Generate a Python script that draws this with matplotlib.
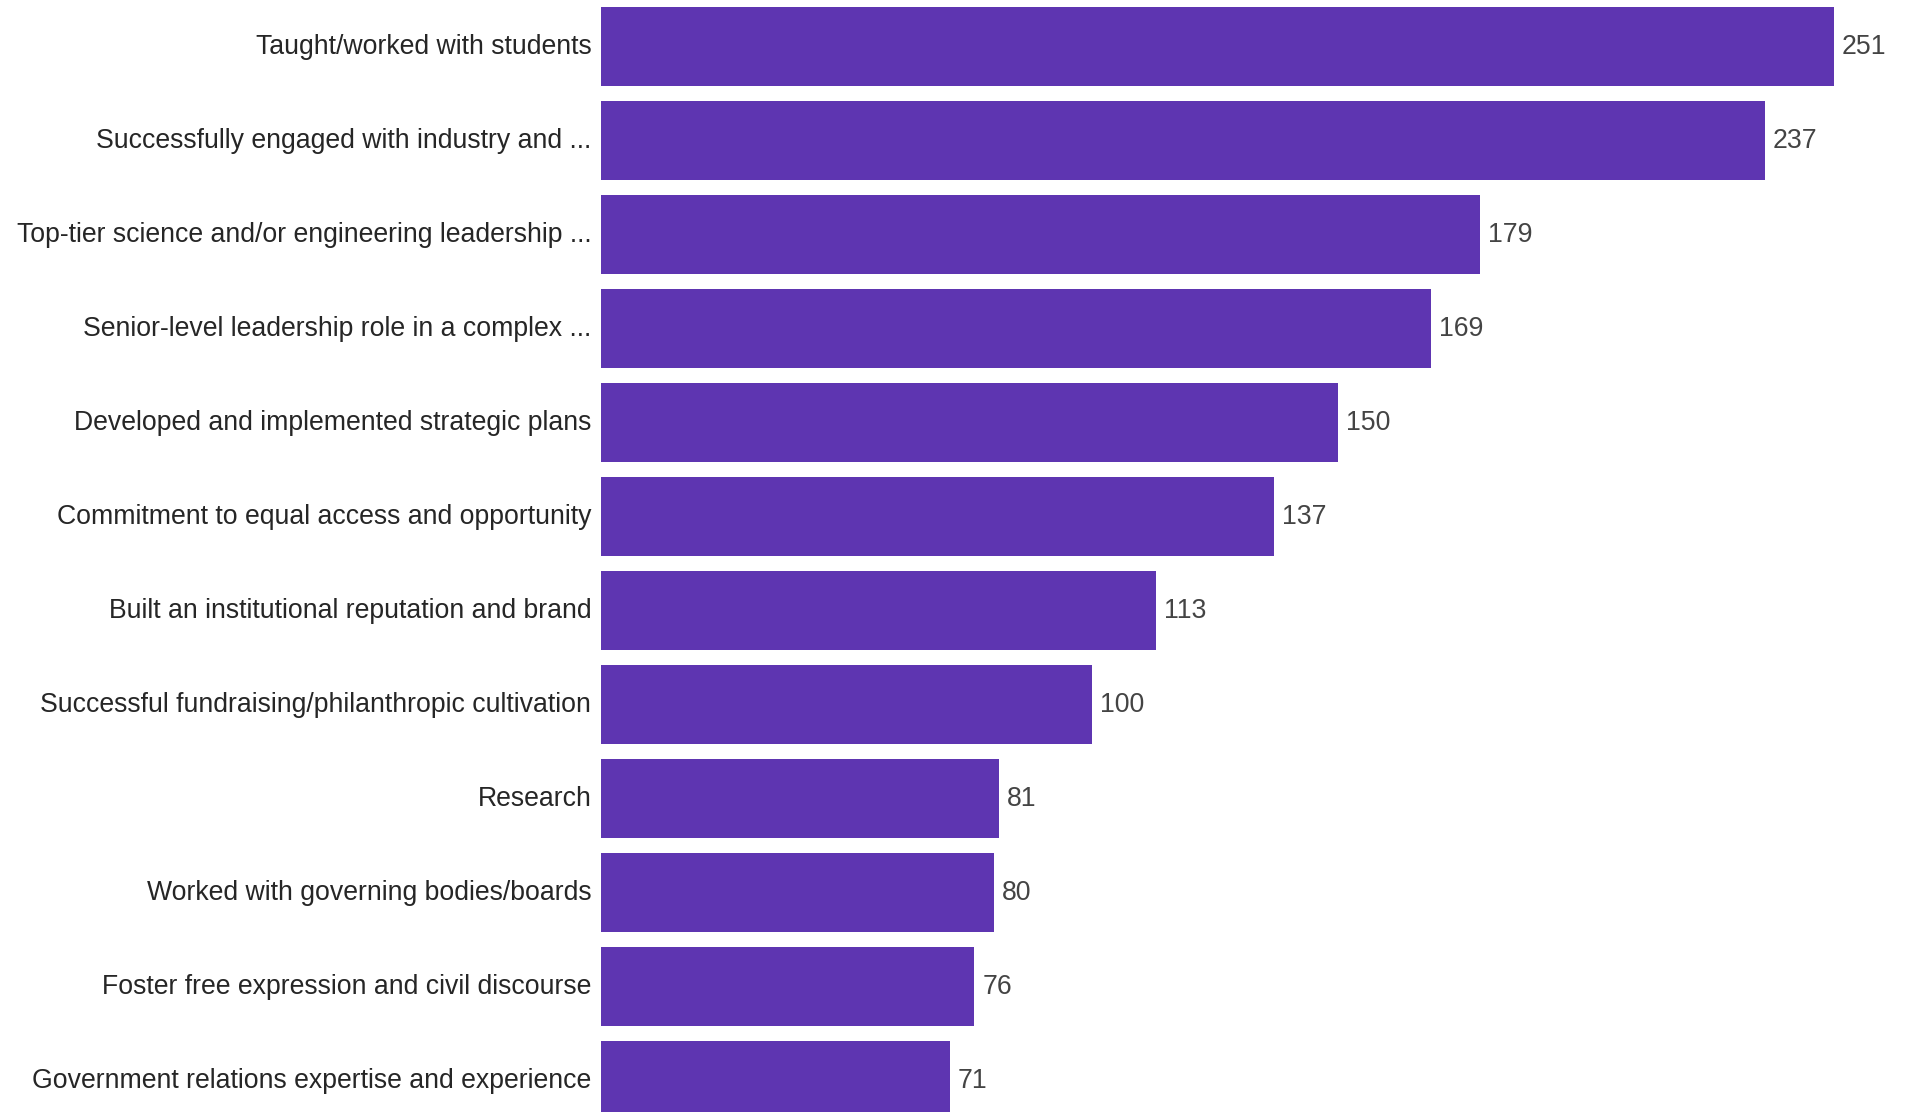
import matplotlib
matplotlib.use("Agg")
import matplotlib.pyplot as plt
import matplotlib.transforms as mtransforms

categorias = [
    "Taught/worked with students",
    "Successfully engaged with industry and ...",
    "Top-tier science and/or engineering leadership ...",
    "Senior-level leadership role in a complex ...",
    "Developed and implemented strategic plans",
    "Commitment to equal access and opportunity",
    "Built an institutional reputation and brand",
    "Successful fundraising/philanthropic cultivation",
    "Research",
    "Worked with governing bodies/boards",
    "Foster free expression and civil discourse",
    "Government relations expertise and experience",
]
valores = [251, 237, 179, 169, 150, 137, 113, 100, 81, 80, 76, 71]

COLOR_BARRA = "#5E35B1"

plt.rcParams["font.family"] = ["Liberation Sans", "DejaVu Sans"]

fig = plt.figure(figsize=(19.06, 11.12), dpi=100)
ax = fig.add_axes([601 / 1906, 0, 1 - 601 / 1906, 1])

posiciones = list(range(len(categorias)))
ax.barh(posiciones, valores, height=0.84, color=COLOR_BARRA)

for y, v in zip(posiciones, valores):
    ax.text(v + 1.6, y + 0.01, str(v), va="center", ha="left", fontsize=19.2,
            color="#444444")

ax.set_yticks(posiciones)
ax.set_yticklabels(categorias, fontsize=19.2, color="#262626", va="center")
# bajar un poco las etiquetas del eje y
bajar = mtransforms.ScaledTranslation(0, -1.2 / 100, fig.dpi_scale_trans)
for lbl in ax.get_yticklabels():
    lbl.set_transform(lbl.get_transform() + bajar)
ax.tick_params(axis="y", length=0, pad=7)
ax.set_xticks([])
ax.set_xlim(0, (1906 - 601) / 4.912)
ax.set_ylim(11.335, -0.495)
for s in ax.spines.values():
    s.set_visible(False)

fig.savefig("out.png", dpi=100)
